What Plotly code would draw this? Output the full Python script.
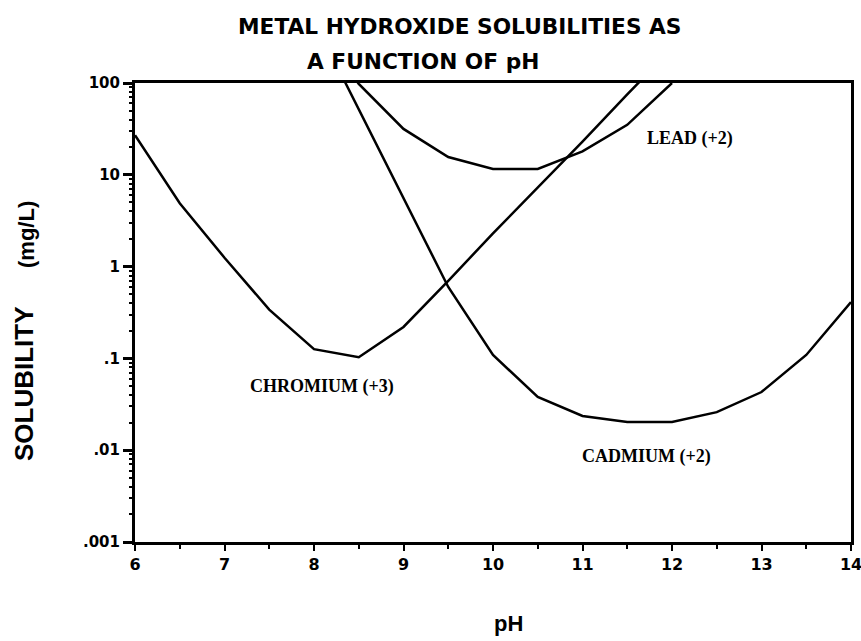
import math
import plotly.graph_objects as go

# values (solubility in mg/L vs pH)
ph_cr = [6.0, 6.5, 7.0, 7.5, 8.0, 8.5, 9.0, 9.5, 10.0, 10.5, 11.0, 11.5, 12.0]
sol_cr = [27, 4.9, 1.25, 0.34, 0.126, 0.103, 0.22, 0.70, 2.3, 7.2, 23, 75, 240]

ph_cd = [8.0, 8.5, 9.0, 9.5, 10.0, 10.5, 11.0, 11.5, 12.0, 12.5, 13.0, 13.5, 14.0]
sol_cd = [480, 51, 5.6, 0.60, 0.109, 0.038, 0.0236, 0.0203, 0.0203, 0.026, 0.043, 0.109, 0.41]

ph_pb = [8.0, 8.5, 9.0, 9.5, 10.0, 10.5, 11.0, 11.5, 12.0]
sol_pb = [420, 98, 31.6, 15.6, 11.6, 11.6, 18, 35, 100]

y_ticks = [0.001, 0.01, 0.1, 1, 10, 100]
y_labels = [".001", ".01", ".1", "1", "10", "100"]
x_ticks = [6, 7, 8, 9, 10, 11, 12, 13, 14]

curve_labels = [
    ("LEAD (+2)", 12.2, 25),
    ("CHROMIUM (+3)", 8.09, 0.049),
    ("CADMIUM (+2)", 11.72, 0.0085),
]

SANS = "Liberation Sans, Arial, sans-serif"
WIDE = "DejaVu Sans, sans-serif"
SERIF = "Liberation Serif, Times New Roman, serif"

W, H = 861, 641
L, R, T, B = 135, 10, 83, 99
pw, ph = W - L - R, H - T - B


def px(x, y):
    # pixel position on the page -> paper coordinates
    return (x - L) / pw, 1 - (y - T) / ph


fig = go.Figure()
for xs, ys, name in [(ph_cr, sol_cr, "Chromium"), (ph_cd, sol_cd, "Cadmium"), (ph_pb, sol_pb, "Lead")]:
    fig.add_scatter(x=xs, y=ys, mode="lines", name=name, line=dict(color="black", width=2.5))

# minor log ticks drawn on an overlaid axis
minor_vals = [m * 10 ** e for e in range(-3, 2) for m in range(2, 10)]
fig.add_scatter(x=[], y=[], yaxis="y2", showlegend=False)

for text, x, y in curve_labels:
    fig.add_annotation(x=x, y=math.log10(y), xref="x", yref="y", text=f"<b>{text}</b>",
                       showarrow=False, font=dict(family=SERIF, size=18, color="black"))

texts = [
    ("METAL HYDROXIDE SOLUBILITIES AS", 236, 27, "left", 0, WIDE, 21.7),
    ("A FUNCTION OF pH", 305, 62, "left", 0, WIDE, 21.7),
    ("SOLUBILITY", 24, 384, "center", -90, SANS, 26),
    ("(mg/L)", 26, 235, "center", -90, SANS, 22),
    ("pH", 508, 623, "center", 0, SANS, 22),
]
for text, x, y, anchor, ang, fam, size in texts:
    xp, yp = px(x, y)
    fig.add_annotation(x=xp, y=yp, xref="paper", yref="paper", text=f"<b>{text}</b>",
                       showarrow=False, xanchor=anchor, yanchor="middle", textangle=ang,
                       font=dict(family=fam, size=size, color="black"))

fig.update_layout(
    width=W, height=H, margin=dict(l=L, r=R, t=T, b=B, autoexpand=False),
    plot_bgcolor="white", paper_bgcolor="white", showlegend=False,
    font=dict(family=SANS, color="black"),
    yaxis2=dict(type="log", range=[-3, 2], overlaying="y", side="left", tickvals=minor_vals,
                ticks="outside", ticklen=5, tickwidth=1.5, tickcolor="black", automargin=False,
                showticklabels=False, showgrid=False, zeroline=False, showline=False),
)
fig.update_xaxes(range=[6, 14], tickvals=x_ticks, ticks="outside", ticklen=6, tickwidth=2,
                 tickcolor="black", showgrid=False, zeroline=False, showline=True, linewidth=3,
                 linecolor="black", mirror=True, automargin=False, ticklabeloverflow="allow",
                 tickfont=dict(family=WIDE, size=16, color="black", weight="bold"),
                 minor=dict(dtick=0.5, ticks="outside", ticklen=4, tickwidth=1.5, tickcolor="black"))
fig.layout.yaxis.update(type="log", range=[-3, 2], tickvals=y_ticks, ticktext=y_labels,
                        ticks="outside", ticklen=9, tickwidth=2.5, tickcolor="black",
                        showgrid=False, zeroline=False, showline=True, linewidth=3,
                        linecolor="black", mirror=True, automargin=False,
                        ticklabeloverflow="allow",
                        tickfont=dict(family=WIDE, size=15, color="black", weight="bold"))

fig.write_html("out.html", config={"displayModeBar": False},
               post_script="document.body.style.margin='0';")
